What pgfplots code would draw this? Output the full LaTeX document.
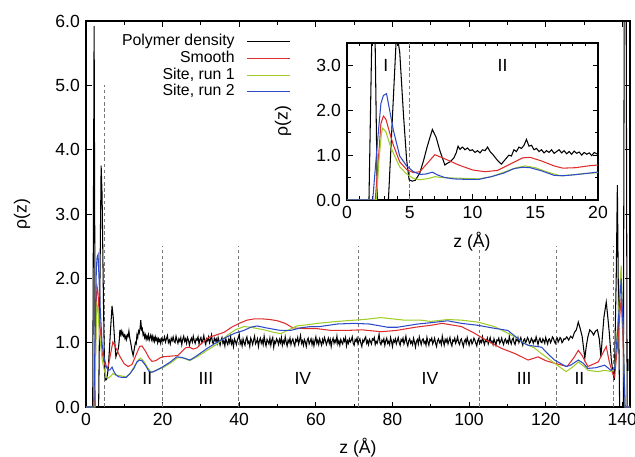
\documentclass[border=0pt]{standalone}
\usepackage{fontspec}
\setmainfont{Liberation Sans}
\usepackage{pgfplots}
\pgfplotsset{compat=1.18}
\usepackage{pgfplotstable}

\definecolor{cred}{RGB}{222,45,45}
\definecolor{cgreen}{RGB}{160,205,40}
\definecolor{cblue}{RGB}{45,75,200}
\definecolor{cdash}{RGB}{120,120,120}

\tikzset{vdash/.style={cdash, line width=0.45pt, dash pattern=on 2pt off 1.5pt},
  lbl/.style={font=\fontsize{10}{12}\selectfont, inner sep=0pt}}
\pgfplotsset{
  rhobase/.style={
    scale only axis,
    axis line style={line width=0.6pt},
    tick style={line width=0.5pt, black},
    major tick length=0.11cm, minor tick length=0.07cm,
    /pgf/number format/assume math mode=true,
    tick label style={font=\fontsize{10}{12}\selectfont},
    yticklabel style={/pgf/number format/.cd, fixed, fixed zerofill, precision=1},
    every axis plot/.append style={line width=0.6pt},
  },
}

% polymer density
\pgfplotstableread{
z rho
0 0
1.75 0
2.12 5.92
2.42 0
3.3 0
3.95 3.75
4.2 3.3
4.5 1.9
4.75 0.9
4.95 0.45
5.2 0.42
5.45 0.44
5.8 0.6
6.1 0.88
6.4 1.2
6.8 1.57
7.1 1.4
7.4 1.1
7.8 0.78
8.0 0.82
8.2 0.85
8.5 0.93
8.7 1.05
8.85 1.2
9.0 1.13
9.2 1.18
9.4 1.12
9.6 1.16
9.8 1.10
10.0 1.12
10.2 1.06
10.4 1.10
10.6 1.05
10.8 1.12
11.0 1.10
11.2 1.18
11.4 1.08
11.6 1.02
11.8 0.95
12.0 0.88
12.3 0.80
12.6 0.90
12.9 1.00
13.1 0.98
13.3 1.12
13.5 1.08
13.7 1.18
13.9 1.15
14.1 1.22
14.3 1.35
14.5 1.20
14.7 1.22
14.9 1.12
15.1 1.15
15.3 1.08
15.5 1.12
15.7 1.05
15.9 1.10
16.1 1.06
16.3 1.12
16.5 1.04
16.7 1.08
16.9 1.12
17.1 1.05
17.3 1.10
17.5 1.03
17.7 1.08
17.9 1.02
18.1 1.09
18.3 1.04
18.5 1.07
18.7 1.00
18.9 1.06
19.1 1.02
19.3 1.05
19.5 0.99
19.7 1.06
19.9 1.03
20.0 1.05
20.25 1.03
20.5 1.09
20.75 1.01
21.0 1.06
21.25 1.11
21.5 1.00
21.75 1.04
22.0 0.98
22.25 1.07
22.5 1.03
22.75 1.09
23.0 1.02
23.25 1.00
23.5 1.10
23.75 1.04
24.0 0.99
24.25 1.06
24.5 1.02
24.75 1.08
25.0 0.97
25.25 1.05
25.5 1.10
25.75 1.02
26.0 1.06
26.25 0.99
26.5 1.08
26.75 1.04
27.0 0.96
27.25 1.03
27.5 1.07
27.75 1.01
28.0 1.10
28.25 1.03
28.5 0.99
28.75 1.06
29.0 1.04
29.25 1.09
29.5 0.98
29.75 1.05
30.0 1.08
30.25 1.00
30.5 1.04
30.75 1.11
31.0 1.02
31.25 0.97
31.5 1.06
31.75 1.03
32.0 1.09
32.25 1.00
32.5 1.05
32.75 1.12
33.0 1.01
33.25 0.98
33.5 1.07
33.75 1.03
34.0 1.06
34.25 0.99
34.5 1.08
34.75 1.02
35.0 0.96
35.25 1.04
35.5 1.08
35.75 0.99
36.0 1.03
36.25 0.95
36.5 1.06
36.75 1.01
37.0 0.97
37.25 1.05
37.5 1.00
37.75 1.09
38.0 0.98
38.25 1.03
38.5 0.94
38.75 1.06
39.0 1.02
39.25 0.97
39.5 1.04
39.75 1.08
40.0 1.13
40.25 0.98
40.5 1.03
40.75 0.95
41.0 1.06
41.25 1.00
41.5 0.96
41.75 1.05
42.0 1.09
42.25 0.99
42.5 1.02
42.75 0.94
43.0 1.07
43.25 1.03
43.5 0.97
43.75 1.04
44.0 1.10
44.25 0.98
44.5 1.01
44.75 1.06
45.0 0.94
45.25 1.03
45.5 1.07
45.75 0.99
46.0 1.04
46.25 0.97
46.5 1.10
46.75 1.01
47.0 0.95
47.25 1.05
47.5 1.02
47.75 0.98
48.0 1.07
48.25 0.96
48.5 1.04
48.75 1.08
49.0 0.93
49.25 1.02
49.5 0.99
49.75 1.06
50.0 1.03
50.25 0.97
50.5 1.05
50.75 1.00
51.0 1.08
51.25 0.96
51.5 1.03
51.75 0.99
52.0 1.09
52.25 1.01
52.5 0.95
52.75 1.04
53.0 1.00
53.25 1.07
53.5 0.97
53.75 1.03
54.0 1.06
54.25 0.99
54.5 0.95
54.75 1.05
55.0 1.02
55.25 1.08
55.5 0.98
55.75 1.04
56.0 1.11
56.25 0.99
56.5 1.03
56.75 0.96
57.0 1.05
57.25 1.01
57.5 0.94
57.75 1.04
58.0 1.07
58.25 0.98
58.5 1.02
58.75 1.06
59.0 0.97
59.25 1.04
59.5 0.95
59.75 1.03
60.0 1.09
60.25 0.99
60.5 1.04
60.75 0.97
61.0 1.06
61.25 1.01
61.5 0.96
61.75 1.05
62.0 1.00
62.25 1.08
62.5 1.03
62.75 0.97
63.0 1.02
63.25 1.07
63.5 0.99
63.75 1.05
64.0 0.94
64.25 1.03
64.5 1.07
64.75 0.99
65.0 1.04
65.25 1.00
65.5 1.10
65.75 0.98
66.0 1.03
66.25 0.96
66.5 1.05
66.75 1.01
67.0 0.98
67.25 1.06
67.5 1.02
67.75 1.08
68.0 0.95
68.25 1.03
68.5 0.99
68.75 1.06
69.0 1.01
69.25 1.04
69.5 1.09
69.75 0.99
70.0 0.96
70.25 1.05
70.5 1.02
70.75 1.07
71.0 0.98
71.25 1.03
71.5 1.06
71.75 0.99
72.0 0.94
72.25 1.04
72.5 1.01
72.75 1.06
73.0 1.09
73.25 0.99
73.5 1.03
73.75 0.97
74.0 1.05
74.25 1.02
74.5 0.98
74.75 1.06
75.0 1.04
75.25 1.08
75.5 0.97
75.75 1.02
76.0 0.99
76.25 1.05
76.5 1.13
76.75 1.00
77.0 0.97
77.25 1.04
77.5 1.01
77.75 1.06
78.0 0.96
78.25 1.03
78.5 1.07
78.75 0.99
79.0 1.02
79.25 0.97
79.5 1.08
79.75 1.02
80.0 0.94
80.25 1.04
80.5 1.01
80.75 1.06
81.0 0.98
81.25 1.03
81.5 1.08
81.75 1.00
82.0 0.96
82.25 1.05
82.5 1.02
82.75 1.07
83.0 0.98
83.25 1.03
83.5 1.10
83.75 1.00
84.0 0.95
84.25 1.03
84.5 1.06
84.75 0.99
85.0 1.02
85.25 0.97
85.5 1.07
85.75 1.01
86.0 0.93
86.25 1.02
86.5 1.05
86.75 0.98
87.0 1.09
87.25 1.03
87.5 0.97
87.75 1.04
88.0 1.06
88.25 0.99
88.5 1.02
88.75 0.96
89.0 1.08
89.25 1.01
89.5 0.96
89.75 1.05
90.0 1.03
90.25 1.07
90.5 0.98
90.75 1.02
91.0 1.07
91.25 0.99
91.5 0.94
91.75 1.03
92.0 1.06
92.25 1.00
92.5 1.03
92.75 0.97
93.0 1.10
93.25 1.02
93.5 0.96
93.75 1.05
94.0 1.01
94.25 1.06
94.5 0.98
94.75 1.03
95.0 1.08
95.25 0.99
95.5 0.95
95.75 1.04
96.0 1.02
96.25 1.07
96.5 0.99
96.75 1.03
97.0 1.09
97.25 1.00
97.5 0.97
97.75 1.04
98.0 1.06
98.25 0.99
98.5 0.94
98.75 1.02
99.0 1.05
99.25 0.99
99.5 1.08
99.75 1.02
100.0 0.96
100.25 1.03
100.5 1.05
100.75 0.98
101.0 1.01
101.25 1.07
101.5 1.04
101.75 0.99
102.0 0.95
102.25 1.03
102.5 1.06
102.75 0.99
103.0 1.03
103.25 1.00
103.5 1.09
103.75 1.02
104.0 0.97
104.25 1.04
104.5 1.02
104.75 1.07
105.0 0.98
105.25 1.03
105.5 1.08
105.75 1.00
106.0 1.02
106.25 0.97
106.5 1.06
106.75 1.01
107.0 0.96
107.25 1.04
107.5 1.03
107.75 1.07
108.0 0.99
108.25 1.02
108.5 1.07
108.75 1.01
109.0 0.97
109.25 1.04
109.5 1.06
109.75 1.00
110.0 1.03
110.25 0.99
110.5 1.10
110.75 1.02
111.0 0.98
111.25 1.05
111.5 1.07
111.75 1.00
112.0 0.97
112.25 1.05
112.5 1.03
112.75 1.08
113.0 1.00
113.25 1.04
113.5 1.08
113.75 1.01
114.0 0.96
114.25 1.04
114.5 1.06
114.75 1.00
115.0 1.03
115.25 1.08
115.5 1.05
115.75 0.99
116.0 1.01
116.25 1.07
116.5 1.04
116.75 0.99
117.0 1.04
117.25 1.02
117.5 1.09
117.75 1.03
118.0 0.97
118.25 1.04
118.5 1.07
118.75 1.01
119.0 1.00
119.25 1.06
119.5 1.03
119.75 0.99
120.0 1.08
120.25 1.03
120.5 0.98
120.75 1.05
121.0 1.06
121.25 1.00
121.5 1.03
121.75 1.09
122.0 1.07
122.25 1.02
122.5 0.99
122.75 1.05
123.0 1.07
123.25 1.01
123.5 1.04
123.75 1.08
124.0 1.06
124.25 1.00
124.5 1.02
124.75 1.06
125.0 1.05
125.5 1.09
126.0 1.04
126.5 1.10
127.0 1.07
127.5 1.16
128.0 1.20
128.5 1.32
129.0 1.22
129.5 1.10
130.2 0.76
130.6 0.95
131.0 1.09
131.5 1.20
132.0 1.17
132.5 1.12
133.0 1.18
133.5 1.20
134.0 1.05
134.4 0.78
134.8 1.10
135.2 1.40
135.8 1.63
136.2 1.40
136.6 1.15
137.1 0.75
137.5 0.55
137.9 0.42
138.4 2.00
138.7 3.45
139.0 1.50
139.3 0
140.25 0
140.5 6.3
141.0 6.3
141.25 0
142 0
}\tblack

% smooth
\pgfplotstableread{
z rho
0 0
2.25 0
2.5 0.9
2.7 1.7
2.9 1.87
3.1 1.8
3.4 1.5
3.7 1.22
4.2 0.85
4.75 0.68
5.3 0.61
5.8 0.63
6.5 0.85
7.0 1.01
7.7 0.93
8.9 0.78
10 0.67
11 0.63
12 0.66
13 0.80
14 0.94
14.6 0.95
15.5 0.87
16.5 0.76
17.2 0.71
18.2 0.72
19.2 0.76
20 0.78
22 0.79
24 0.80
26 0.92
27 0.93
28 0.90
29 0.92
30 0.98
32 1.08
34 1.12
36 1.16
38 1.24
40 1.30
42 1.35
44 1.37
46 1.37
48 1.36
50 1.34
52 1.30
54 1.23
57 1.22
60 1.22
64 1.19
68 1.19
72 1.20
77 1.17
81 1.19
86 1.24
90 1.27
93 1.30
96 1.27
98 1.25
101 1.16
103 1.09
106 0.99
108.5 0.91
112 0.83
115.4 0.73
117 0.76
118 0.78
120 0.72
122.3 0.68
125.6 0.63
127.5 0.78
128.5 0.88
129.5 0.80
131 0.63
133.7 0.70
135.8 0.94
136.6 0.70
137.5 0.52
138 0.47
138.8 1.00
139.7 1.70
140.2 1.00
140.7 0
142 0
}\tred

% site, run 1
\pgfplotstableread{
z rho
0 0
2.35 0
2.55 0.9
2.75 1.5
2.85 1.6
3.1 1.52
3.4 1.25
3.7 1.04
4.2 0.74
4.75 0.58
5.3 0.48
5.8 0.45
6.5 0.48
7.0 0.52
7.6 0.50
8.5 0.49
9.5 0.48
10.5 0.47
11.5 0.52
12.5 0.62
13.5 0.72
14.2 0.76
15 0.72
16 0.62
17 0.54
18 0.56
19 0.59
20 0.61
22 0.68
24 0.77
25.5 0.76
27 0.72
29 0.78
31.6 0.88
34 0.97
37 1.12
39 1.20
41.2 1.25
43 1.24
46.4 1.20
49 1.16
50.8 1.14
53 1.20
55 1.26
58 1.28
60.4 1.30
65.6 1.33
70 1.35
72.6 1.36
76.9 1.39
80 1.37
83.1 1.35
87.4 1.35
90 1.33
94.4 1.36
98 1.35
102.3 1.32
106.6 1.25
109 1.18
111.9 1.09
115.4 0.96
117 0.92
118.9 0.83
122.3 0.68
125.3 0.55
127 0.62
128.5 0.70
130 0.63
131 0.57
133.7 0.55
135.4 0.57
137.2 0.55
138 0.62
138.9 1.40
139.7 2.20
140.2 1.20
140.7 0
142 0
}\tgreen

% site, run 2
\pgfplotstableread{
z rho
0 0
2.05 0
2.4 1.2
2.7 2.15
2.9 2.33
3.15 2.37
3.4 2.0
3.7 1.55
4.2 0.98
4.75 0.76
5.3 0.63
5.8 0.57
6.3 0.58
6.8 0.62
7.2 0.56
7.8 0.50
8.5 0.47
9.5 0.46
10.5 0.46
11.5 0.52
12.5 0.60
13.3 0.70
14.0 0.73
14.6 0.72
15.5 0.65
16.5 0.55
17.2 0.54
18 0.56
19 0.59
20.2 0.63
22 0.70
23.7 0.78
25 0.77
27.2 0.73
29 0.80
31.6 0.91
34 1.00
36.8 1.09
39 1.15
41.2 1.19
43 1.24
44.7 1.26
47 1.23
50.8 1.19
53.4 1.19
56 1.23
58.6 1.25
61 1.25
65.6 1.29
70 1.30
74 1.29
78.7 1.24
81.3 1.24
86.6 1.29
90 1.31
94.4 1.34
98 1.30
102.3 1.27
106 1.23
110.1 1.19
112 1.10
114 1.00
115.4 0.96
118.9 0.93
120.5 0.83
122.3 0.73
125.3 0.63
126.5 0.65
128.5 0.73
129.8 0.68
131 0.60
133 0.61
135.4 0.65
137 0.57
138 0.60
138.8 1.20
139.7 2.00
140.2 1.20
140.7 0
142 0
}\tblue

\begin{document}
\begin{tikzpicture}
\useasboundingbox (-1.72,-0.98) rectangle (10.98,8.14);

\begin{axis}[rhobase,
  at={(0,0)}, anchor=south west,
  width=10.88cm, height=7.72cm,
  xmin=0, xmax=142, ymin=0, ymax=6,
  xtick={0,20,...,140}, minor x tick num=1,
  ytick={0,1,...,6},
  legend plot pos=right,
  legend cell align=right,
  legend image code/.code={\draw[#1] (0cm,0cm) -- (0.86cm,0cm);},
  legend style={at={(axis description cs:0.376,0.968)}, anchor=north east,
    draw=none, fill=none, inner sep=0pt, outer sep=0pt,
    font=\fontsize{9}{9}\selectfont,
    nodes={inner sep=0.5pt, text height=6.6pt, text depth=1.9pt},
    /tikz/every odd column/.append style={column sep=0.22cm}},
]
\draw[vdash] (axis cs:4.7,0) -- (axis cs:4.7,5.0);
\draw[vdash] (axis cs:19.9,0) -- (axis cs:19.9,2.5);
\draw[vdash] (axis cs:39.8,0) -- (axis cs:39.8,2.5);
\draw[vdash] (axis cs:71.2,0) -- (axis cs:71.2,2.5);
\draw[vdash] (axis cs:102.6,0) -- (axis cs:102.6,2.5);
\draw[vdash] (axis cs:122.8,0) -- (axis cs:122.8,2.5);
\draw[vdash] (axis cs:137.7,0) -- (axis cs:137.7,2.5);

\addplot[black] table[x=z, y=rho] {\tblack};
\addlegendentry{Polymer density}
\addplot[cred] table[x=z, y=rho] {\tred};
\addlegendentry{Smooth}
\addplot[cgreen] table[x=z, y=rho] {\tgreen};
\addlegendentry{Site, run 1}
\addplot[cblue] table[x=z, y=rho] {\tblue};
\addlegendentry{Site, run 2}

\node[lbl] at (axis cs:16,0.45) {II};
\node[lbl] at (axis cs:31.3,0.45) {III};
\node[lbl] at (axis cs:56.6,0.45) {IV};
\node[lbl] at (axis cs:89.8,0.45) {IV};
\node[lbl] at (axis cs:114.4,0.45) {III};
\node[lbl] at (axis cs:128.8,0.45) {II};
\node[lbl] at (axis cs:141.4,0.65) {I};
\end{axis}

\begin{axis}[rhobase,
  at={(5.22cm,4.14cm)}, anchor=south west,
  width=5.02cm, height=3.14cm,
  xmin=0, xmax=20, ymin=0, ymax=3.5,
  xtick={0,5,...,20}, minor x tick num=4,
  ytick={0,1,2,3}, minor ytick={0.5,1.5,2.5,3.5},
]
\draw[vdash] (axis cs:5,0) -- (axis cs:5,3.5);
\addplot[black] table[x=z, y=rho] {\tblack};
\addplot[cred] table[x=z, y=rho] {\tred};
\addplot[cgreen] table[x=z, y=rho] {\tgreen};
\addplot[cblue] table[x=z, y=rho] {\tblue};
\node[lbl] at (axis cs:3.1,3.0) {I};
\node[lbl] at (axis cs:12.4,3.0) {II};
\end{axis}

% axis titles
\node[lbl] at (5.44cm,-0.82cm) {z (Å)};
\node[lbl, rotate=90] at (-1.28cm,3.86cm) {ρ(z)};
\node[lbl] at (7.72cm,3.30cm) {z (Å)};
\node[lbl, rotate=90] at (3.94cm,5.72cm) {ρ(z)};
\end{tikzpicture}
\end{document}
